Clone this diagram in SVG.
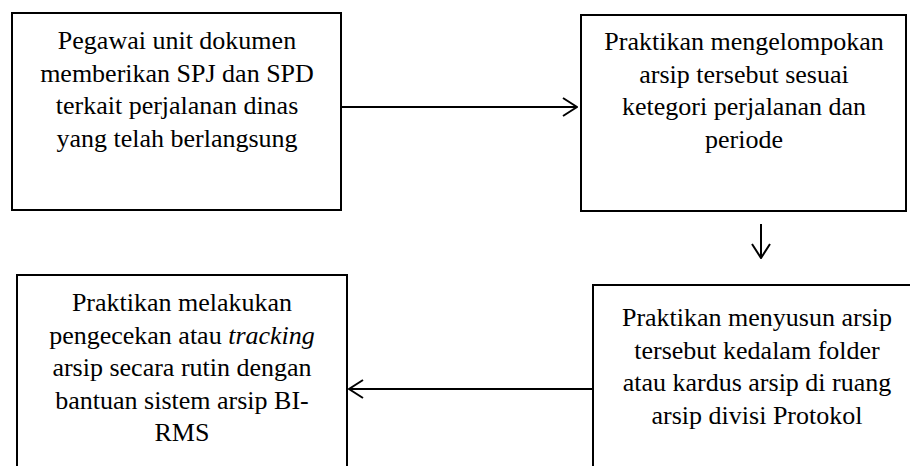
<svg xmlns="http://www.w3.org/2000/svg" width="910" height="466" viewBox="0 0 910 466">
<style>
.box{fill:#fff;stroke:#000;stroke-width:2}
.t{font-family:'Liberation Serif','Times New Roman',serif;font-size:26px;fill:#000;text-anchor:middle}
.ln{stroke:#000;stroke-width:2;fill:none}
</style>
<defs>
<marker id="ah" viewBox="0 0 16 20" refX="15" refY="10" markerWidth="16" markerHeight="20" markerUnits="userSpaceOnUse" orient="auto">
<path d="M1,1 L15,10 L1,19" fill="none" stroke="#000" stroke-width="2"/>
</marker>
</defs>
<rect width="910" height="466" fill="#fff"/>
<g id="n1">
<rect class="box" x="12" y="13" width="329" height="197"/>
<text class="t" x="177" y="49">Pegawai unit dokumen</text>
<text class="t" x="177" y="81.7">memberikan SPJ dan SPD</text>
<text class="t" x="177" y="114.4">terkait perjalanan dinas</text>
<text class="t" x="177" y="147.1">yang telah berlangsung</text>
</g>
<g id="n2">
<rect class="box" x="581" y="15" width="325" height="196"/>
<text class="t" x="744" y="50">Praktikan mengelompokan</text>
<text class="t" x="744" y="82.5">arsip tersebut sesuai</text>
<text class="t" x="744" y="115">ketegori perjalanan dan</text>
<text class="t" x="744" y="147.5">periode</text>
</g>
<g id="n3">
<rect class="box" x="593" y="285" width="328" height="200"/>
<text class="t" x="757" y="326">Praktikan menyusun arsip</text>
<text class="t" x="757" y="358.7">tersebut kedalam folder</text>
<text class="t" x="757" y="391.4">atau kardus arsip di ruang</text>
<text class="t" x="757" y="424.1">arsip divisi Protokol</text>
</g>
<g id="n4">
<rect class="box" x="17" y="275" width="330" height="210"/>
<text class="t" x="182" y="311">Praktikan melakukan</text>
<text class="t" x="182" y="343.5">pengecekan atau <tspan font-style="italic">tracking</tspan></text>
<text class="t" x="182" y="376">arsip secara rutin dengan</text>
<text class="t" x="182" y="408.5">bantuan sistem arsip BI-</text>
<text class="t" x="182" y="441">RMS</text>
</g>
<g id="connectors">
<line class="ln" x1="341" y1="107" x2="577" y2="107" marker-end="url(#ah)"/>
<line class="ln" x1="761" y1="224" x2="761" y2="258" marker-end="url(#ah)"/>
<line class="ln" x1="593" y1="389" x2="349" y2="389" marker-end="url(#ah)"/>
</g>
</svg>
